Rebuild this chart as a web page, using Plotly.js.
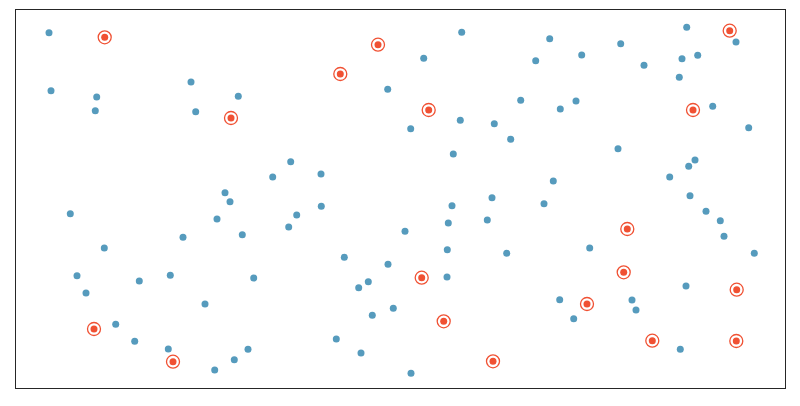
<!DOCTYPE html>
<html>
<head>
<meta charset="utf-8">
<script src="https://cdn.plot.ly/plotly-3.0.1.min.js"></script>
<style>html,body{margin:0;padding:0;background:#fff;}#chart{width:800px;height:406px;}</style>
</head>
<body>
<div id="chart"></div>
<script>
// Regular (blue) observations
const blueX = [33,35,80.7,79.3,175,222.3,179.7,209,445.7,407.7,371.7,504.7,444.3,478.3,394.7,494.7,437.3,274.7,256.7,305,476,670.7,720,533.7,604.7,565.7,519.7,628,666,681.7,663.3,560,544.3,696.7,732.7,602,679,672.7,653.7,537.3,674,214,54.3,201,167,226.3,88.3,61,123.3,154.3,237.7,70,189,99.7,118.7,152.3,218.3,232,198.7,305.3,436,280.7,272.7,432.3,471.3,389,431.3,490.7,328.3,372,431,352.3,342.7,377.3,356.3,320.3,345,395,528,690,704.3,708,738.3,573.7,670,543.7,616,620,557.7,664.3];
const blueY = [355.3,297.3,291,277.3,306,291.7,276.3,195.3,355.7,329.7,298.7,287.7,267.7,264.3,259.3,248.7,234,226.3,211,214,190.3,360.7,346,349.3,344.3,333,327.3,322.7,329.3,332.7,310.7,287,279,281.7,260.3,239.3,228,221.7,211,207,192.3,186.3,174.3,169,150.7,153.3,140,112.3,107,112.7,110,95,84,63.7,46.7,39,28.3,38.7,18,181.7,182.3,173,161,165,168,156.7,138.3,134.7,130.7,123.7,111,106.3,100.3,79.7,72.7,49,35,14.7,184.3,176.7,167.3,151.7,134.7,140,102,88.3,88,78,69.3,38.7];
// Highlighted (red) observations
const redX = [88.7,215,362,324.3,412.7,713.7,677,78,157,405.7,427.7,477,611.3,607.7,720.7,571,636.3,720.3];
const redY = [350.7,270,343.3,314,278,357.3,278,59,26.3,110.3,66.7,26.7,159,115.7,98.3,84,47.3,47];

const blue = '#569BBD';
const red = '#F05133';

const traces = [
  {x: blueX, y: blueY, type: 'scatter', mode: 'markers', hoverinfo: 'skip',
   marker: {color: blue, size: 7, line: {width: 0}}},
  {x: redX, y: redY, type: 'scatter', mode: 'markers', hoverinfo: 'skip',
   marker: {symbol: 'circle-open', color: red, size: 13, line: {color: red, width: 1.3}}},
  {x: redX, y: redY, type: 'scatter', mode: 'markers', hoverinfo: 'skip',
   marker: {color: red, size: 7, line: {width: 0}}}
];

const axisCommon = {showgrid: false, zeroline: false, showticklabels: false, ticks: '',
  showline: true, mirror: true, linecolor: '#262626', linewidth: 1.3, fixedrange: true};

const layout = {
  width: 800, height: 406,
  margin: {l: 16, r: 15, t: 10, b: 18, pad: 0},
  paper_bgcolor: '#fff', plot_bgcolor: '#fff',
  showlegend: false,
  xaxis: Object.assign({range: [0, 769]}, axisCommon),
  yaxis: Object.assign({range: [0, 378]}, axisCommon)
};

Plotly.newPlot('chart', traces, layout, {staticPlot: true, displayModeBar: false});
</script>
</body>
</html>
